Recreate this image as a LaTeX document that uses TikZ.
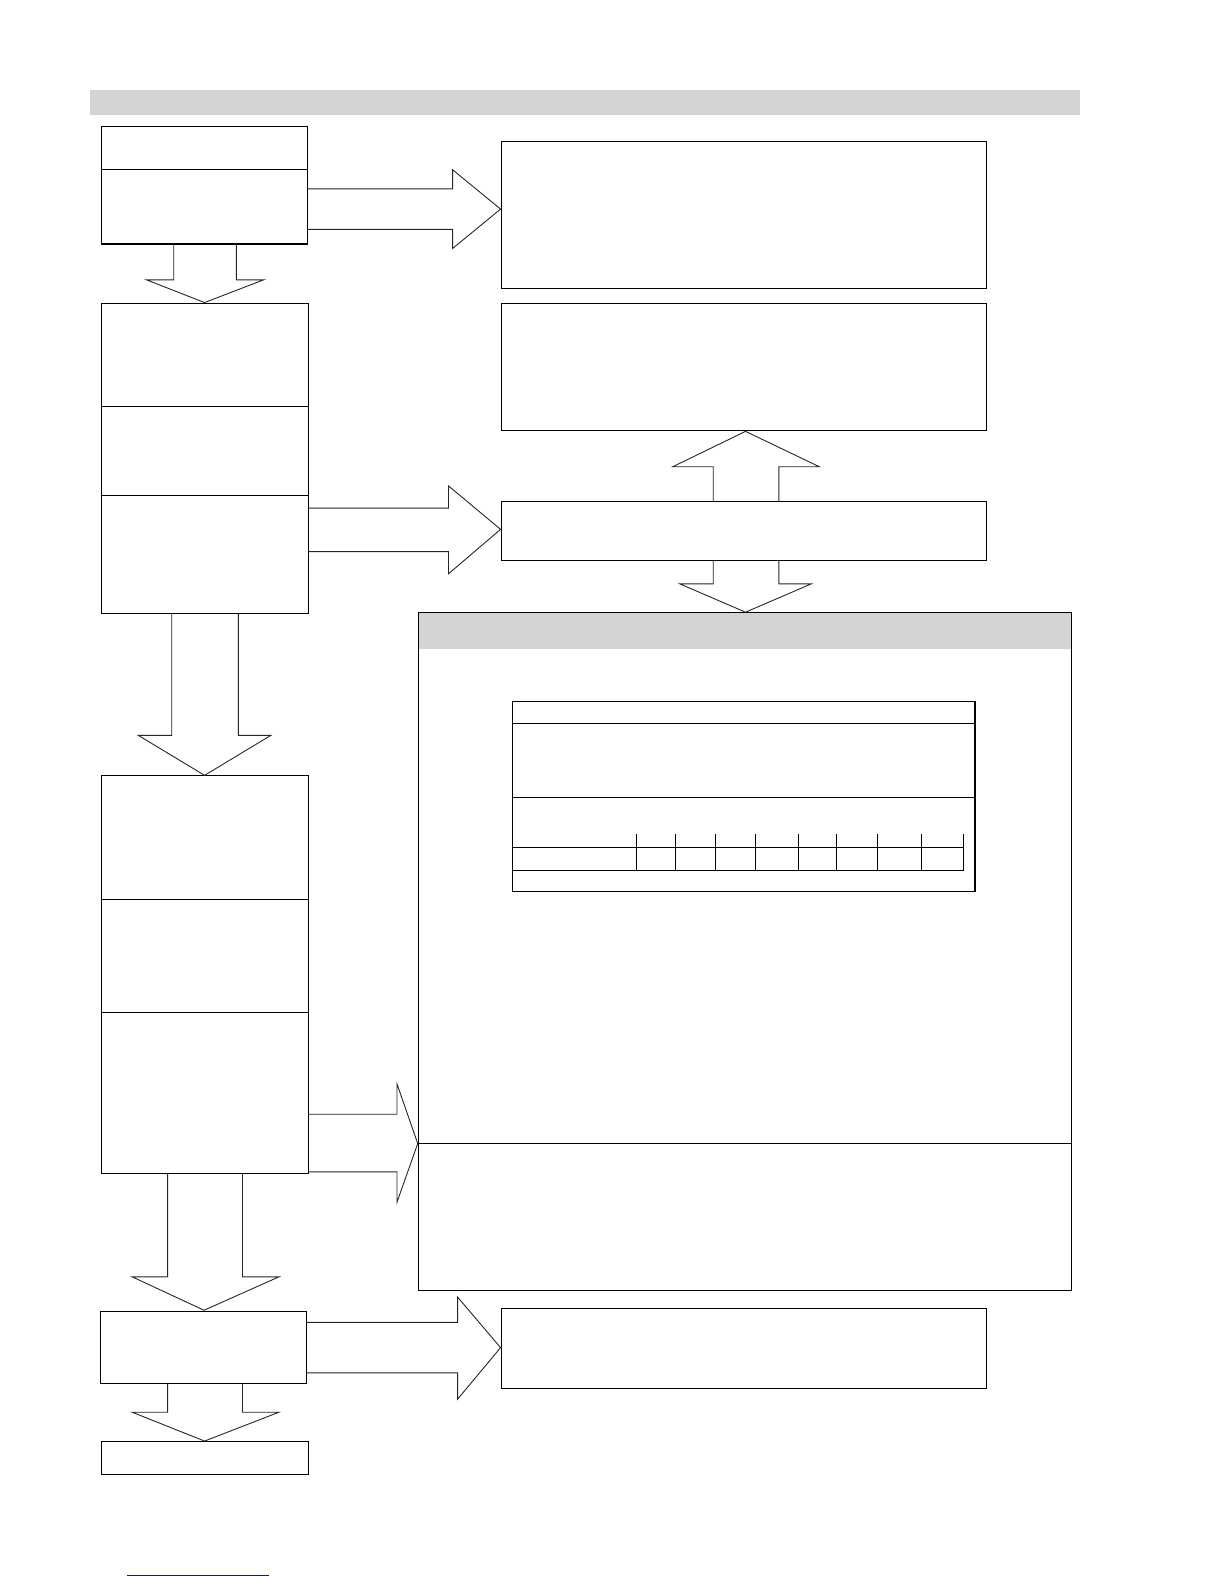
\documentclass[tikz,border=0pt]{standalone}
\usetikzlibrary{fit}
\tikzset{
  box/.style={draw=black, line width=1pt, inner sep=0pt, fill=white},
  graybar/.style={fill=black!17, draw=none},
  blockarrow/.style={draw=black!85, line width=0.9pt, line join=miter},
  rule/.style={draw=black, line width=1pt},
}
\newcommand{\bx}[6][]{\node[box,#1, fit={(#3,#4) (#5,#6)}] (#2) {};}
\begin{document}
\begin{tikzpicture}[x=1.0099pt, y=-1.0099pt]
\useasboundingbox[fill=white] (0,0) rectangle (1212,1568);
% top gray bar
\fill[black!17] (89,89) rectangle (1069,114);
% ---- Box A ----
\bx{A}{100}{125}{304}{241}
\draw[rule] (A.west |- 0,168) -- (A.east |- 0,168);
\draw[line width=2pt] (A.south west) -- (A.south east);
% ---- Box B ----
\bx{B}{496}{140}{977}{286}
% arrow A -> B
\draw[blockarrow] (A.east |- 0,187) -- (448,187) -- (448,168) -- (B.west |- 0,207) -- (448,246) -- (448,227) -- (A.east |- 0,227);
% ---- Box C (stack) ----
\bx{C}{100}{300}{305}{607}
\draw[rule] (C.west |- 0,402) -- (C.east |- 0,402);
\draw[rule] (C.west |- 0,490) -- (C.east |- 0,490);
% arrow A -> C
\draw[blockarrow] (172,241) -- (172,277) -- (145,277) -- (C.north) -- (261,277) -- (234,277) -- (234,241);
% ---- Box D ----
\bx{D}{496}{300}{977}{426}
% ---- Box E ----
\bx{E}{496}{496}{977}{555}
% arrow E -> D (up)
\draw[blockarrow] (706,496) -- (706,462) -- (666,462) -- (738,427) -- (811,462) -- (771,462) -- (771,496);
% arrow C -> E
\draw[blockarrow] (C.east |- 0,503) -- (444,503) -- (444,481) -- (E.west |- 0,524) -- (444,568) -- (444,546) -- (C.east |- 0,546);
% ---- Big box F ----
\bx{F}{414}{606}{1061}{1277}
\fill[black!17] (415,607) rectangle (1060,642);
\draw[rule] (F.west |- 0,1132) -- (F.east |- 0,1132);
% arrow E -> F
\draw[blockarrow] (706,555) -- (706,578) -- (673,578) -- (738,606) -- (803,578) -- (771,578) -- (771,555);
% ---- table inside F ----
\bx{T}{507.3}{694.8}{964.7}{882.2}
\draw[line width=1.6pt] (T.north east) -- (T.south east);
\foreach \yy in {716.2, 789.5} \draw[rule] (507.3,\yy) -- (964.7,\yy);
\draw[rule] (507.3,839) -- (953.8,839);
\draw[rule] (507.3,861.8) -- (953.8,861.8);
\foreach \xx in {630.5, 668.7, 708.3, 747.9, 790.5, 828.5, 868.7, 912.6, 953.8}
  \draw[rule] (\xx,826) -- (\xx,861.8);
% ---- Box J (stack 2) ----
\bx{J}{100}{768}{305}{1162}
\draw[rule] (J.west |- 0,890) -- (J.east |- 0,890);
\draw[rule] (J.west |- 0,1002) -- (J.east |- 0,1002);
% arrow C -> J
\draw[blockarrow] (170,607) -- (170,728) -- (137,728) -- (J.north) -- (268,728) -- (236,728) -- (236,607);
% arrow J -> F
\draw[blockarrow] (J.east |- 0,1103) -- (393,1103) -- (393,1073) -- (F.west |- 0,1132) -- (393,1190) -- (393,1160) -- (J.east |- 0,1160);
% ---- Box G ----
\bx{G}{99}{1298}{303}{1370}
% arrow J -> G
\draw[blockarrow] (166,1162) -- (166,1264) -- (131,1264) -- (202,1297) -- (276,1264) -- (240,1264) -- (240,1162);
% ---- Box H ----
\bx{H}{496}{1295}{977}{1374}
% arrow G -> H
\draw[blockarrow] (G.east |- 0,1309) -- (453,1309) -- (453,1284) -- (H.west |- 0,1334) -- (453,1385) -- (453,1359) -- (G.east |- 0,1359);
% ---- Box I ----
\bx{I}{100}{1427}{305}{1460}
% arrow G -> I
\draw[blockarrow] (166,1370) -- (166,1398) -- (131,1398) -- (I.north) -- (276,1398) -- (240,1398) -- (240,1370);
% blue rule at bottom
\draw[draw={rgb,255:red,20;green,20;blue,150}, line width=1pt] (126,1559.5) -- (266.5,1559.5);
\end{tikzpicture}
\end{document}
